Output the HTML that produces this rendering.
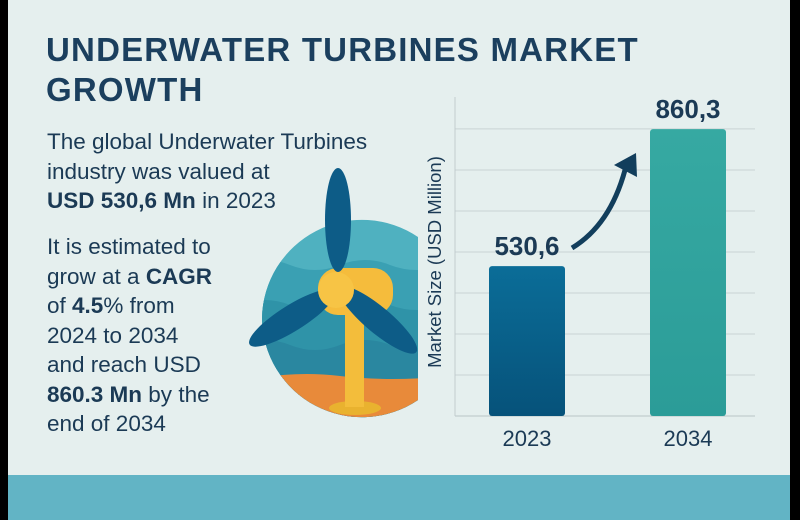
<!DOCTYPE html>
<html><head><meta charset="utf-8"><style>
body{margin:0;width:800px;height:520px;overflow:hidden;background:#000;font-family:"Liberation Sans",sans-serif}
#card{position:absolute;left:8px;top:0;width:782px;height:520px;background:#e5efee}
#band{position:absolute;left:0;top:475px;width:782px;height:45px;background:#62b4c5}
.t{position:absolute;color:#1b3a55;white-space:nowrap}
h1{position:absolute;left:38px;top:30px;margin:0;font-size:33px;line-height:40px;font-weight:bold;color:#1b3f5e;letter-spacing:1.2px}
.p{font-size:22.5px;line-height:29.5px;left:39px}
</style></head><body>
<div id="card">
<h1>UNDERWATER TURBINES MARKET<br>GROWTH</h1>
<div class="t p" style="top:127px">The global Underwater Turbines<br>industry was valued at<br><b>USD 530,6 Mn</b> in 2023</div>
<div class="t p" style="top:232px">It is estimated to<br>grow at a <b>CAGR</b><br>of <b>4.5</b>% from<br>2024 to 2034<br>and reach USD<br><b>860.3 Mn</b> by the<br>end of 2034</div>
<div id="band"></div>
</div>
<svg width="800" height="520" style="position:absolute;left:0;top:0">
<defs>
<clipPath id="cc"><path d="M262 318 A100 100 0 0 1 418 237 L418 400 A100 100 0 0 1 262 318Z"/></clipPath>
<linearGradient id="g1" x1="0" y1="0" x2="0" y2="1"><stop offset="0" stop-color="#0b6d98"/><stop offset="1" stop-color="#06527a"/></linearGradient>
<linearGradient id="g2" x1="0" y1="0" x2="0" y2="1"><stop offset="0" stop-color="#36a9a2"/><stop offset="1" stop-color="#2b9c98"/></linearGradient>
</defs>
<g>
<g clip-path="url(#cc)">
<rect x="240" y="210" width="210" height="220" fill="#4fb1c0"/>
<path d="M240 265 q25 -10 50 0 t50 0 t50 0 t60 0 V430 H240Z" fill="#3aa0b3"/>
<path d="M240 305 q25 -10 50 0 t50 0 t50 0 t60 0 V430 H240Z" fill="#2f93a8"/>
<path d="M240 345 q25 -10 50 0 t50 0 t50 0 t60 0 V430 H240Z" fill="#2a87a0"/>
<path d="M240 382 q50 -12 100 -6 t110 0 V430 H240Z" fill="#e88a3a"/>
</g>
<ellipse cx="355" cy="408" rx="26" ry="7" fill="#e9b22f"/>
<rect x="345" y="305" width="19" height="102" fill="#f3bd3b"/>
<rect x="318" y="268" width="75" height="47" rx="20" fill="#f5bc3c"/>
<ellipse cx="338" cy="220" rx="13" ry="52" fill="#0d5c87"/>
<ellipse cx="292" cy="318" rx="13" ry="50" transform="rotate(58 292 318)" fill="#0d5c87"/>
<ellipse cx="378" cy="320" rx="13" ry="50" transform="rotate(-50 378 320)" fill="#0d5c87"/>
<circle cx="336" cy="290" r="18" fill="#f7c445"/>
</g>
<g id="chart"></g>
<rect x="790" y="0" width="10" height="520" fill="#000"/>
</svg>
<script>
const categories=["2023","2034"];
const values=[530.6,860.3];
const valueLabels=["530,6","860,3"];
const gridValues=[170,268.7,367.4,466.1,564.8,663.5,762.2,860.9];
const ns="http://www.w3.org/2000/svg";
const g=document.getElementById('chart');
const y0=416,yMin=170,pxPer=0.4155;
function y(v){return y0-(v-yMin)*pxPer;}
const barX=[489,650];
function x(i){return barX[0]+i*(barX[1]-barX[0]);}
function mk(t,a,txt){const e=document.createElementNS(ns,t);for(const k in a)e.setAttribute(k,a[k]);if(txt)e.textContent=txt;g.appendChild(e);return e;}
gridValues.forEach((v,i)=>{const e=mk('line',{x1:455,x2:755,y1:y(v),y2:y(v),stroke:i==0?'#b9c4c6':'#c9d3d4','stroke-width':1});

});
const ax=mk('line',{x1:455,x2:455,y1:97,y2:416,stroke:'#c2ccce','stroke-width':1});


const yt=mk('text',{x:0,y:0,transform:'translate(441,262) rotate(-90)','text-anchor':'middle','font-size':18.5,fill:'#1b3a55'},'Market Size (USD Million)');


values.forEach((v,i)=>{
const b=mk('rect',{x:x(i),y:y(v),width:76,height:y0-y(v),rx:3,fill:i==0?'url(#g1)':'url(#g2)'});


const l=mk('text',{x:x(i)+38,y:y(v)-11,'text-anchor':'middle','font-size':26,'font-weight':'bold',fill:'#1b3a55'},valueLabels[i]);


const c=mk('text',{x:x(i)+38,y:446,'text-anchor':'middle','font-size':22,fill:'#1b3a55'},categories[i]);


});
const ar=mk('path',{d:'M572 248 Q610 225 625 170',fill:'none',stroke:'#123e5c','stroke-width':5});


const ah=mk('path',{d:'M614 165 L636 153 L637 177 Z',fill:'#123e5c'});


</script>
</body></html>
